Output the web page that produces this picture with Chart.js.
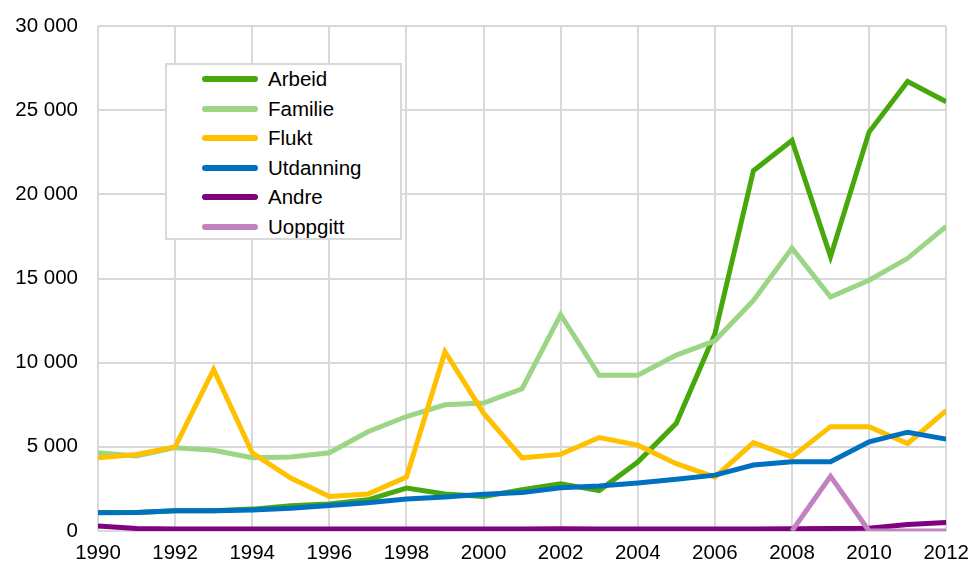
<!DOCTYPE html>
<html>
<head>
<meta charset="utf-8">
<script src="https://cdn.jsdelivr.net/npm/chart.js@4.4.0/dist/chart.umd.min.js"></script>
<style>
  body { margin: 0; background: #fff; }
  #wrap { position: relative; width: 979px; height: 565px; }
  #chart { position: absolute; left: 0; top: 0; }
  #legend { position: absolute; left: 165px; top: 63px; width: 233px; height: 173px; border: 2px solid #d9d9d9; background: #fff; font: 20.5px "Liberation Sans", Arial, sans-serif; color: #000; }
  .row { position: absolute; left: 0; height: 24px; line-height: 24px; white-space: nowrap; }
  .swatch { position: absolute; left: 35px; top: 9px; width: 56px; height: 6px; border-radius: 3px; }
  .label { position: absolute; left: 101px; top: 0; }
</style>
</head>
<body>
<div id="wrap">
  <canvas id="chart" width="979" height="565"></canvas>
  <div id="legend"></div>
</div>
<script>
const years = [1990, 1991, 1992, 1993, 1994, 1995, 1996, 1997, 1998, 1999, 2000, 2001, 2002, 2003, 2004, 2005, 2006, 2007, 2008, 2009, 2010, 2011, 2012];
const seriesNames = ['Arbeid', 'Familie', 'Flukt', 'Utdanning', 'Andre', 'Uoppgitt'];
const arbeid = [1100, 1100, 1200, 1200, 1300, 1500, 1600, 1850, 2550, 2200, 2050, 2450, 2800, 2400, 4100, 6400, 11700, 21400, 23200, 16300, 23700, 26700, 25500];
const familie = [4650, 4450, 4950, 4800, 4350, 4400, 4650, 5900, 6800, 7500, 7600, 8450, 12850, 9250, 9250, 10450, 11300, 13700, 16800, 13900, 14900, 16200, 18100];
const flukt = [4350, 4550, 5000, 9600, 4650, 3150, 2050, 2200, 3200, 10650, 7000, 4350, 4550, 5550, 5100, 4000, 3200, 5250, 4400, 6200, 6200, 5200, 7150];
const utdanning = [1080, 1100, 1200, 1200, 1250, 1350, 1520, 1680, 1900, 2020, 2180, 2280, 2570, 2670, 2850, 3080, 3320, 3920, 4120, 4120, 5300, 5870, 5460];
const andre = [300, 150, 120, 120, 120, 120, 120, 120, 120, 120, 120, 120, 130, 120, 120, 120, 120, 120, 130, 150, 170, 380, 500];
const uoppgitt = [null, null, null, null, null, null, null, null, null, null, null, null, null, null, null, null, null, null, 0, 3250, 0, 0, 0];
const yTicks = { min: 0, max: 30000, step: 5000 };

const colors = ['#47a80c', '#9dd586', '#ffc000', '#0070c0', '#800080', '#c282c2'];
const values = [arbeid, familie, flukt, utdanning, andre, uoppgitt];
const FONT = { family: '"Liberation Sans", Arial, sans-serif', size: 20.5 };

function spaced(v) {
    return String(v).replace(/\B(?=(\d{3})+(?!\d))/g, ' ');
}

const datasets = seriesNames.map((name, i) => ({
    label: name,
    data: years.map((y, k) => ({ x: y, y: values[i][k] })),
    borderColor: colors[i],
    backgroundColor: colors[i],
    borderWidth: 5,
    pointRadius: 0,
    tension: 0,
    order: seriesNames.length - i
}));

const chart = new Chart(document.getElementById('chart').getContext('2d'), {
    type: 'line',
    data: { datasets },
    options: {
        responsive: false,
        animation: false,
        devicePixelRatio: 1,
        layout: { padding: { top: 26, right: 29, left: 0, bottom: 0 } },
        plugins: { legend: { display: false }, tooltip: { enabled: false } },
        scales: {
            x: {
                type: 'linear', min: years[0], max: years[years.length - 1],
                afterFit: s => { s.height = 34; },
                grid: { color: '#d9d9d9', lineWidth: 2, drawTicks: false },
                border: { display: false },
                ticks: { stepSize: 2, padding: 10, color: '#000', font: FONT, callback: v => String(v), maxRotation: 0 }
            },
            y: {
                min: yTicks.min, max: yTicks.max,
                afterFit: s => { s.width = 98; s.paddingTop = 0; s.paddingBottom = 0; },
                grid: { color: '#d9d9d9', lineWidth: 2, drawTicks: false },
                border: { display: false },
                ticks: { stepSize: yTicks.step, padding: 20, color: '#000', font: FONT, callback: v => spaced(v) }
            }
        }
    }
});

// legend box inside the plot, built from the datasets
const legend = document.getElementById('legend');
chart.data.datasets.forEach((ds, i) => {
    const row = document.createElement('div');
    row.className = 'row';
    row.style.top = (2 + i * 29.6) + 'px';
    const sw = document.createElement('span');
    sw.className = 'swatch';
    sw.style.background = ds.borderColor;
    const lab = document.createElement('span');
    lab.className = 'label';
    lab.textContent = ds.label;
    row.appendChild(sw);
    row.appendChild(lab);
    legend.appendChild(row);
});
</script>
</body>
</html>
